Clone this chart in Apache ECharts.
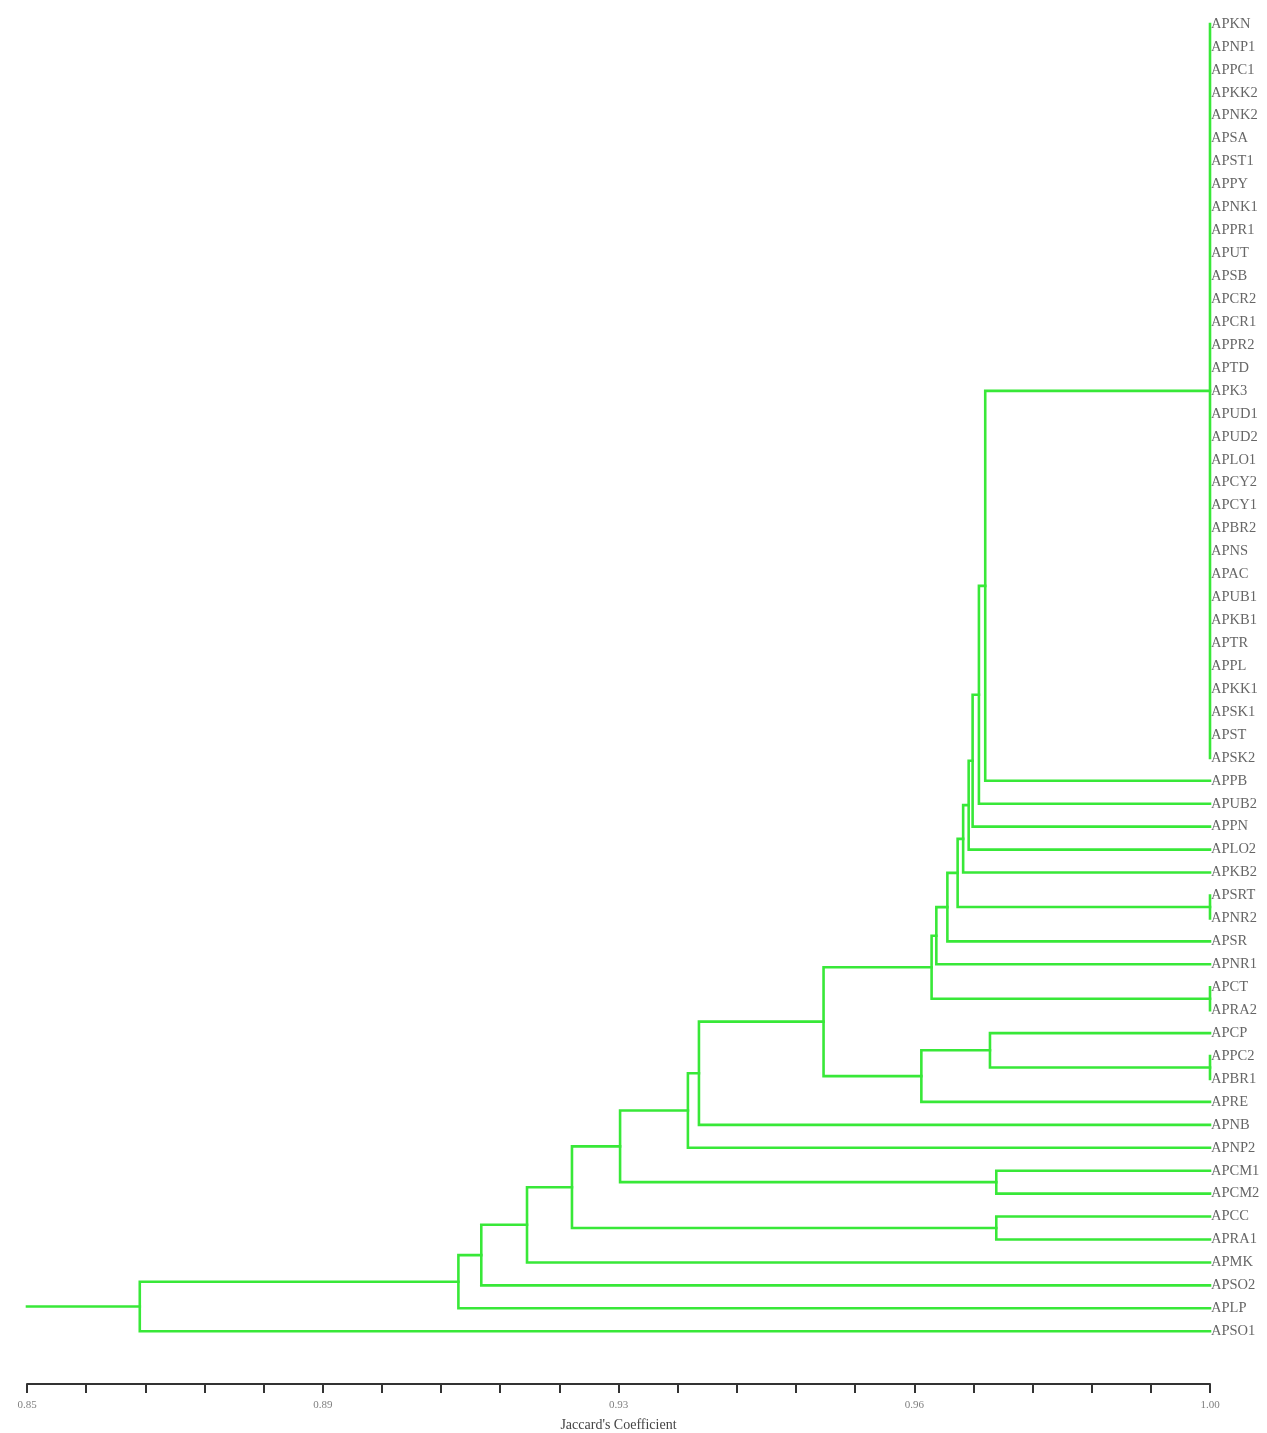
<!DOCTYPE html>
<html>
<head>
<meta charset="utf-8">
<title>Jaccard's Coefficient dendrogram</title>
<script src="https://cdn.jsdelivr.net/npm/echarts@6/dist/echarts.min.js"></script>
<style>
  html, body { margin: 0; padding: 0; background: #ffffff; }
  #chart { width: 1267px; height: 1433px; }
</style>
</head>
<body>
<div id="chart"></div>
<script>
// Accessions, listed top to bottom in dendrogram order
const leafNames = [
  'APKN', 'APNP1', 'APPC1', 'APKK2', 'APNK2', 'APSA', 'APST1', 'APPY', 'APNK1', 'APPR1',
  'APUT', 'APSB', 'APCR2', 'APCR1', 'APPR2', 'APTD', 'APK3', 'APUD1', 'APUD2', 'APLO1',
  'APCY2', 'APCY1', 'APBR2', 'APNS', 'APAC', 'APUB1', 'APKB1', 'APTR', 'APPL', 'APKK1',
  'APSK1', 'APST', 'APSK2', 'APPB', 'APUB2', 'APPN', 'APLO2', 'APKB2', 'APSRT', 'APNR2',
  'APSR', 'APNR1', 'APCT', 'APRA2', 'APCP', 'APPC2', 'APBR1', 'APRE', 'APNB', 'APNP2',
  'APCM1', 'APCM2', 'APCC', 'APRA1', 'APMK', 'APSO2', 'APLP', 'APSO1'
];

// Identical accessions (similarity 1.00) forming the large top group
const identicalGroup = [
  'APKN', 'APNP1', 'APPC1', 'APKK2', 'APNK2', 'APSA', 'APST1', 'APPY', 'APNK1', 'APPR1',
  'APUT', 'APSB', 'APCR2', 'APCR1', 'APPR2', 'APTD', 'APK3', 'APUD1', 'APUD2', 'APLO1',
  'APCY2', 'APCY1', 'APBR2', 'APNS', 'APAC', 'APUB1', 'APKB1', 'APTR', 'APPL', 'APKK1',
  'APSK1', 'APST', 'APSK2'
];

// UPGMA clustering steps: id, joined members, Jaccard similarity at the join
const clusterIds = [
  'c01', 'c02', 'c03', 'c04', 'c05', 'c06', 'c07', 'c08', 'c09', 'c10', 'c11', 'c12', 'c13',
  'c14', 'c15', 'c16', 'c17', 'c18', 'c19', 'c20', 'c21', 'c22', 'c23', 'c24', 'c25', 'c26'
];
const clusterMembers = [
  identicalGroup,
  ['c01', 'APPB'],
  ['c02', 'APUB2'],
  ['c03', 'APPN'],
  ['c04', 'APLO2'],
  ['c05', 'APKB2'],
  ['APSRT', 'APNR2'],
  ['c06', 'c07'],
  ['c08', 'APSR'],
  ['c09', 'APNR1'],
  ['APCT', 'APRA2'],
  ['c10', 'c11'],
  ['APPC2', 'APBR1'],
  ['APCP', 'c13'],
  ['c14', 'APRE'],
  ['c12', 'c15'],
  ['c16', 'APNB'],
  ['c17', 'APNP2'],
  ['APCM1', 'APCM2'],
  ['c18', 'c19'],
  ['APCC', 'APRA1'],
  ['c20', 'c21'],
  ['c22', 'APMK'],
  ['c23', 'APSO2'],
  ['c24', 'APLP'],
  ['c25', 'APSO1']
];
const clusterSimilarity = [
  1.000, 0.9715, 0.9707, 0.9699, 0.9694, 0.9687, 1.000, 0.9680, 0.9667, 0.9653,
  1.000, 0.9647, 1.000, 0.9721, 0.9634, 0.9510, 0.9352, 0.9338, 0.9729, 0.9252,
  0.9729, 0.9191, 0.9134, 0.9076, 0.9047, 0.8643
];

// Similarity scale
const axisMin = 0.85;
const axisMax = 1.00;
const tickValues = [
  0.85, 0.8575, 0.865, 0.8725, 0.88, 0.8875, 0.895, 0.9025, 0.91, 0.9175, 0.925,
  0.9325, 0.94, 0.9475, 0.955, 0.9625, 0.97, 0.9775, 0.985, 0.9925, 1.00
];
const labelValues = [0.85, 0.8875, 0.925, 0.9625, 1.00];
const labelTexts = ['0.85', '0.89', '0.93', '0.96', '1.00'];

// ---- tree layout: leaves sit at their row index, joins at the midpoint of their outer members
const nodeRow = {};
const nodeSim = {};
leafNames.forEach((name, i) => { nodeRow[name] = i; nodeSim[name] = 1.0; });

const branchPaths = [];
clusterIds.forEach((id, k) => {
  const members = clusterMembers[k];
  const s = clusterSimilarity[k];
  const rows = members.map(m => nodeRow[m]);
  const top = Math.min(...rows);
  const bottom = Math.max(...rows);
  nodeRow[id] = (top + bottom) / 2;
  nodeSim[id] = s;
  if (members.length === 2) {
    const [a, b] = members;
    branchPaths.push([
      [nodeSim[a], nodeRow[a]],
      [s, nodeRow[a]],
      [s, nodeRow[b]],
      [nodeSim[b], nodeRow[b]]
    ]);
  } else {
    branchPaths.push([[s, top], [s, bottom]]);
    members.forEach(m => {
      if (nodeSim[m] !== s) branchPaths.push([[nodeSim[m], nodeRow[m]], [s, nodeRow[m]]]);
    });
  }
});
// stem of the root down to the scale origin
const rootId = clusterIds[clusterIds.length - 1];
branchPaths.push([[nodeSim[rootId], nodeRow[rootId]], [axisMin, nodeRow[rootId]]]);

const chart = echarts.init(document.getElementById('chart'), null, { renderer: 'canvas' });

const serif = "'Liberation Serif', 'Times New Roman', serif";
const axisColor = '#333333';
const branchColor = '#38e838';

chart.setOption({
  backgroundColor: '#ffffff',
  animation: false,
  grid: {
    left: 27,
    right: 57,
    top: 1,
    bottom: 49,
    containLabel: false,
    outerBoundsMode: 'none'
  },
  xAxis: {
    type: 'value',
    min: axisMin,
    max: axisMax,
    position: 'bottom',
    axisLine: { show: true, onZero: false, lineStyle: { color: axisColor, width: 2 } },
    axisTick: {
      show: true,
      customValues: tickValues,
      length: 9,
      lineStyle: { color: axisColor, width: 2 }
    },
    axisLabel: {
      show: true,
      customValues: labelValues,
      formatter: v => {
        const k = labelValues.findIndex(t => Math.abs(t - v) < 1e-9);
        return k >= 0 ? labelTexts[k] : '';
      },
      margin: 16,
      color: '#808080',
      fontFamily: serif,
      fontSize: 11
    },
    splitLine: { show: false },
    name: "Jaccard's Coefficient",
    nameLocation: 'middle',
    nameGap: 34,
    nameTextStyle: { color: '#444444', fontFamily: serif, fontSize: 14 }
  },
  yAxis: {
    type: 'value',
    inverse: true,
    min: -1,
    max: 59.3,
    position: 'right',
    axisLine: { show: false, onZero: false },
    axisTick: { show: false },
    splitLine: { show: false },
    axisLabel: {
      show: true,
      customValues: leafNames.map((_, i) => i),
      formatter: v => leafNames[Math.round(v)] || '',
      margin: 1,
      color: '#666666',
      fontFamily: serif,
      fontSize: 14.5
    }
  },
  series: [
    {
      type: 'lines',
      coordinateSystem: 'cartesian2d',
      polyline: true,
      silent: true,
      lineStyle: { color: branchColor, width: 2.6, opacity: 1, cap: 'square', join: 'miter' },
      data: branchPaths.map(p => ({ coords: p }))
    }
  ]
});
</script>
</body>
</html>
